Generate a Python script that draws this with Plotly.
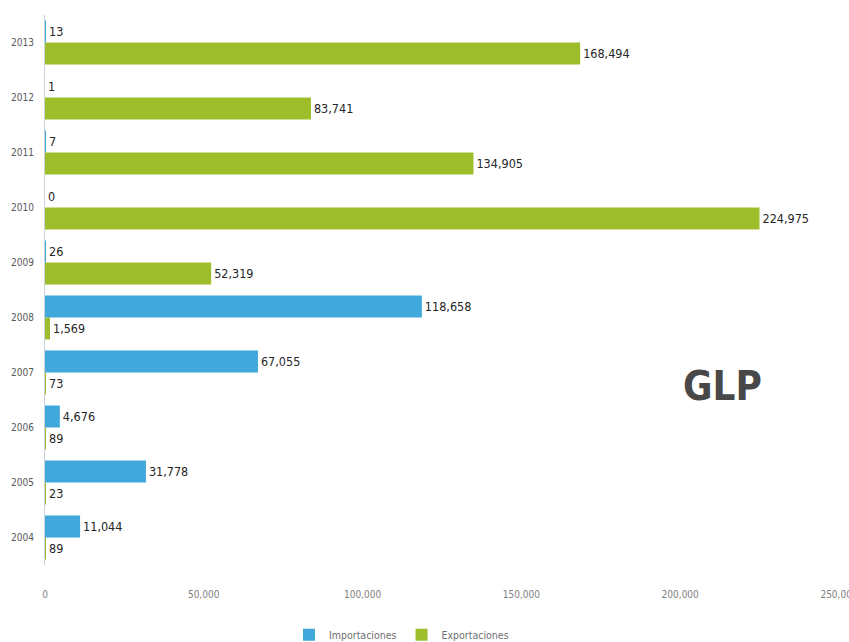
import plotly.graph_objects as go

# GLP trade volumes by year
years = ["2004", "2005", "2006", "2007", "2008", "2009", "2010", "2011", "2012", "2013"]
importaciones = [11044, 31778, 4676, 67055, 118658, 26, 0, 7, 1, 13]
exportaciones = [89, 23, 89, 73, 1569, 52319, 224975, 134905, 83741, 168494]
x_ticks = [0, 50000, 100000, 150000, 200000, 250000]

FONT = "DejaVu Sans Condensed, Liberation Sans Narrow, sans-serif"
BLUE = "#41A8DC"
GREEN = "#9EBD2A"

fig = go.Figure()

# Exportaciones first so it sits below Importaciones within each year
fig.add_trace(go.Bar(
    y=years, x=exportaciones, orientation="h", name="Exportaciones",
    marker=dict(color=GREEN, line=dict(width=0)),
    texttemplate="%{x:,}", textposition="outside", cliponaxis=False,
    textfont=dict(family=FONT, size=12.5, color="#262626"),
    legendrank=2,
))
fig.add_trace(go.Bar(
    y=years, x=importaciones, orientation="h", name="Importaciones",
    marker=dict(color=BLUE, line=dict(width=0)),
    texttemplate="%{x:,}", textposition="outside", cliponaxis=False,
    textfont=dict(family=FONT, size=12.5, color="#262626"),
    legendrank=1,
))

fig.add_annotation(
    text="<b>GLP</b>", xref="paper", yref="paper", x=0.853, y=0.325,
    xanchor="center", yanchor="middle",
    showarrow=False, font=dict(family=FONT, size=40, color="#484848"),
)

fig.update_layout(
    template="none",
    width=849, height=642,
    margin=dict(l=45, r=10, t=15, b=77, autoexpand=False),
    paper_bgcolor="white", plot_bgcolor="white",
    barmode="group", bargap=0.2, bargroupgap=0,
    font=dict(family=FONT, color="#595959", size=10),
    legend=dict(
        orientation="h", x=0.449, xanchor="center", y=-0.127, yanchor="middle",
        font=dict(family=FONT, size=10.5, color="#6F6F6F"),
        itemwidth=30, tracegroupgap=0, bgcolor="rgba(0,0,0,0)",
    ),
    xaxis=dict(
        range=[0, 250000], tickvals=x_ticks, tickformat=",",
        showgrid=False, zeroline=False, showline=False,
        ticks="", ticklabelstandoff=22, automargin=False,
        ticklabeloverflow="allow",
        tickfont=dict(family=FONT, size=10, color="#7F7F7F"),
    ),
    yaxis=dict(
        type="category", categoryorder="array", categoryarray=years,
        range=[-0.5, 9.5],
        showgrid=False, zeroline=False,
        showline=True, linecolor="#C9D3DA", linewidth=1,
        ticks="", ticklabelstandoff=8, automargin=False,
        tickfont=dict(family=FONT, size=10, color="#595959"),
    ),
)

fig.write_html("out.html")
